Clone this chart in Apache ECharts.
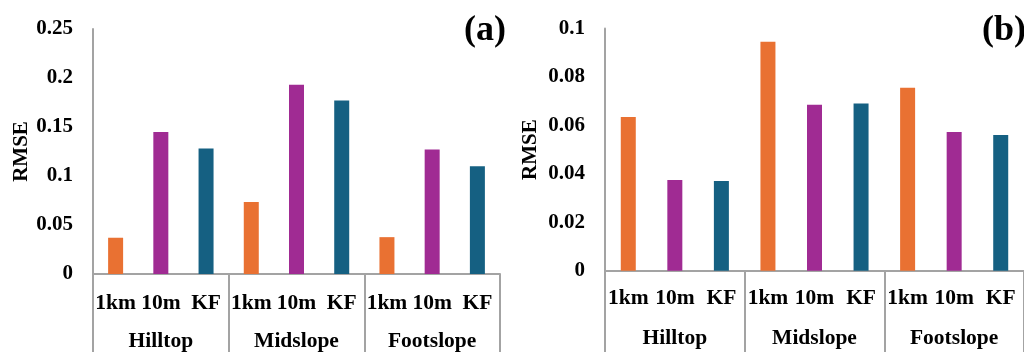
<!DOCTYPE html>
<html>
<head>
<meta charset="utf-8">
<script src="https://cdn.jsdelivr.net/npm/echarts@6/dist/echarts.min.js"></script>
<style>html,body{margin:0;padding:0;background:#fff;}#c{width:1024px;height:352px;}</style>
</head>
<body>
<div id="c"></div>
<script>
// ---- data ----
const methods = ['1km', '10m', 'KF'];
const groups = ['Hilltop', 'Midslope', 'Footslope'];
const categories = ['1km', '10m', 'KF', '1km', '10m', 'KF', '1km', '10m', 'KF'];
const rmseA = [0.037, 0.145, 0.128, 0.0735, 0.193, 0.177, 0.0376, 0.127, 0.110];
const rmseB = [0.0635, 0.0375, 0.037, 0.0945, 0.0685, 0.069, 0.0755, 0.0573, 0.056];
const ticksA = { min: 0, max: 0.25, interval: 0.05 };
const ticksB = { min: 0, max: 0.1, interval: 0.02 };
const panelLabels = ['(a)', '(b)'];
const yName = 'RMSE';

// ---- styling ----
const methodColors = ['#E97132', '#A02B93', '#156082'];
const FONT = '"Liberation Serif", "Times New Roman", serif';
const GREY = '#a3a3a3';

function colorFor(i) { return methodColors[i % methods.length]; }

const grids = [
  { left: 93, top: 29, width: 407, height: 246 },
  { left: 605, top: 28.5, width: 423, height: 242.2 }
];

function yAxis(gi, t, nameGap) {
  return {
    gridIndex: gi, type: 'value', min: t.min, max: t.max, interval: t.interval,
    name: yName, nameLocation: 'middle', nameGap: nameGap, nameRotate: 90,
    nameTextStyle: { fontFamily: FONT, fontWeight: 'bold', fontSize: 21, color: '#000' },
    axisLine: { show: true, lineStyle: { color: GREY, width: 2 } },
    axisTick: { show: false },
    splitLine: { show: false },
    axisLabel: { fontFamily: FONT, fontWeight: 'bold', fontSize: 21, color: '#000', margin: 20 }
  };
}
function xAxes(gi, catMargin, grpMargin) {
  return [
    {
      gridIndex: gi, type: 'category', data: categories, position: 'bottom', offset: 0,
      axisLine: { show: true, lineStyle: { color: GREY, width: 2 } },
      axisTick: { show: false },
      axisLabel: { interval: 0, fontFamily: FONT, fontWeight: 'bold', fontSize: 21.5, color: '#000', margin: catMargin }
    },
    {
      gridIndex: gi, type: 'category', data: groups, position: 'bottom', offset: 0,
      axisLine: { show: false },
      axisTick: { show: true, interval: 0, length: 90, lineStyle: { color: GREY, width: 2 } },
      axisLabel: { interval: 0, fontFamily: FONT, fontWeight: 'bold', fontSize: 21.5, color: '#000', margin: grpMargin }
    }
  ];
}

function barSeries(xi, yi, vals) {
  return {
    type: 'bar', xAxisIndex: xi, yAxisIndex: yi, barWidth: 15,
    data: vals.map((v, i) => ({ value: v, itemStyle: { color: colorFor(i) } }))
  };
}

const option = {
  animation: false,
  backgroundColor: '#fff',
  grid: grids,
  title: [
    { text: panelLabels[0], left: 459, top: 8, textStyle: { fontFamily: FONT, fontWeight: 'bold', fontSize: 36, color: '#000' } },
    { text: panelLabels[1], left: 977, top: 8, textStyle: { fontFamily: FONT, fontWeight: 'bold', fontSize: 36, color: '#000' } }
  ],
  xAxis: [...xAxes(0, 18, 56), ...xAxes(1, 17, 57)],
  yAxis: [yAxis(0, ticksA, 61), yAxis(1, ticksB, 64)],
  series: [barSeries(0, 0, rmseA), barSeries(2, 1, rmseB)]
};

echarts.init(document.getElementById('c'), null, { renderer: 'canvas' }).setOption(option);
</script>
</body>
</html>
